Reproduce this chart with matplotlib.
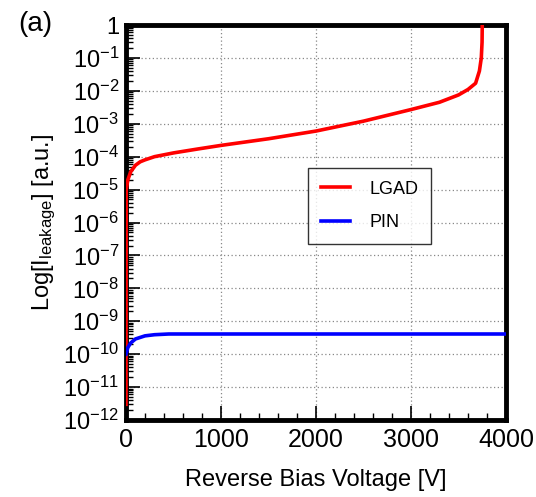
import matplotlib.pyplot as plt
import numpy as np
from matplotlib.ticker import FixedLocator, LogLocator, MultipleLocator, NullFormatter

plt.rcParams["font.family"] = ["Liberation Sans", "DejaVu Sans"]
plt.rcParams["mathtext.fontset"] = "custom"
plt.rcParams["mathtext.rm"] = "Liberation Sans"
plt.rcParams["mathtext.it"] = "Liberation Sans:italic"

# LGAD leakage current vs reverse bias
lgad_v = [0, 2, 20, 50, 100, 150, 200, 300, 500, 750, 1000, 1500, 2000,
          2500, 3000, 3300, 3500, 3600, 3680, 3720, 3740, 3748, 3750]
lgad_i = [3e-12, 1e-5, 2e-5, 3.5e-5, 5.5e-5, 7e-5, 8e-5, 1e-4, 1.3e-4, 1.7e-4,
          2.2e-4, 3.5e-4, 6e-4, 1.2e-3, 2.7e-3, 4.5e-3, 7.5e-3, 1.1e-2, 1.7e-2,
          4e-2, 1e-1, 3e-1, 1.0]

# PIN leakage current
pin_v = [0, 20, 50, 100, 200, 300, 450, 4000]
pin_i = [1e-10, 1.6e-10, 2.2e-10, 2.9e-10, 3.6e-10, 3.9e-10, 4.1e-10, 4.1e-10]

y_exps = list(range(-12, 1))
x_ticks = [0, 1000, 2000, 3000, 4000]

fig = plt.figure(figsize=(5.36, 4.97), dpi=100)
ax = fig.add_axes([126 / 536, 1 - 420 / 497, 380 / 536, 395 / 497])

ax.plot(lgad_v, lgad_i, color="#ff0000", lw=2.6, label="LGAD", zorder=3)
ax.plot(pin_v, pin_i, color="#0000ff", lw=2.6, label="PIN", zorder=3)

ax.set_yscale("log")
ax.set_ylim(1e-12, 1)
ax.set_xlim(0, 4000)

ax.yaxis.set_major_locator(FixedLocator([10.0 ** e for e in y_exps]))
ax.set_yticklabels(["1" if e == 0 else rf"$10^{{{e}}}$" for e in y_exps])
ax.yaxis.set_minor_locator(LogLocator(base=10, subs=np.arange(2, 10), numticks=100))
ax.yaxis.set_minor_formatter(NullFormatter())
ax.set_xticks(x_ticks)
ax.xaxis.set_minor_locator(MultipleLocator(200))

ax.tick_params(axis="x", which="major", labelsize=18, pad=6)
ax.tick_params(axis="y", which="major", labelsize=17, pad=5)
ax.tick_params(axis="both", which="major", direction="in", length=10, width=1.2,
               top=False, right=False)
ax.tick_params(axis="both", which="minor", direction="in", length=5, width=1.0,
               top=False, right=False)
for s in ax.spines.values():
    s.set_linewidth(3.5)

ax.grid(True, which="major", color="#888888", ls=(0, (1, 2)), lw=0.9)

ax.set_xlabel("Reverse Bias Voltage [V]", fontsize=17, labelpad=12)
ax.set_ylabel(r"Log[I$_{\mathrm{leakage}}$] [a.u.]", fontsize=17, labelpad=4)

leg = ax.legend(loc="upper left", bbox_to_anchor=(182 / 380, 1 - 143 / 395),
                borderaxespad=0, fontsize=13, frameon=True, fancybox=False,
                handlelength=1.6, borderpad=0.7, labelspacing=0.9,
                handletextpad=1.1)
leg.get_frame().set_edgecolor("black")
leg.get_frame().set_linewidth(1.0)

fig.text(18 / 536, 1 - 24 / 497, "(a)", fontsize=20, va="center", ha="left")

fig.savefig("out.png", dpi=100)
